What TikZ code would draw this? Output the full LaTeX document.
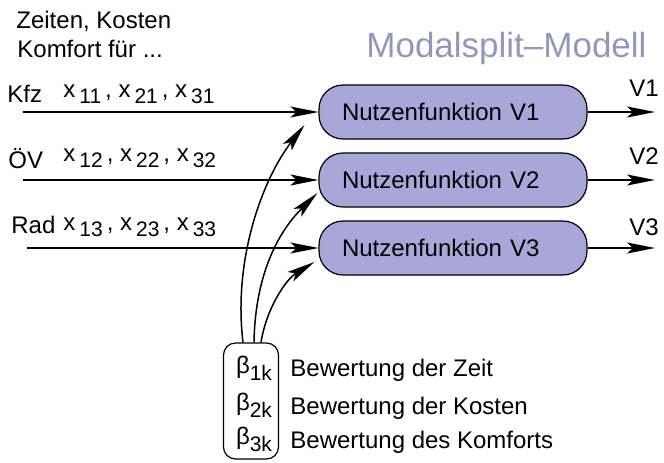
\documentclass[tikz,border=0pt]{standalone}
\usepackage{fontspec}
\setmainfont{Liberation Sans}
\definecolor{nutzColour}{RGB}{167, 167, 217}
\definecolor{titleColour}{RGB}{150, 150, 186}
\usetikzlibrary{
    arrows.meta,
    positioning
}
\newcommand{\tiefidx}[1]{\raisebox{-0.55ex}{\fontsize{10.5}{12}\selectfont #1}}
\begin{document}
\begin{tikzpicture}[x=0.5pt, y=-0.5pt,
        every node/.style={font=\fontsize{12}{14}\selectfont},
        nutzbox/.style={draw, fill=nutzColour, line width=0.6pt, rounded corners=12pt,
            text width=111pt, inner xsep=11.5pt, minimum height=27pt, align=left},
        betabox/.style={draw, line width=0.6pt, rounded corners=6pt, minimum width=27.5pt, minimum height=58pt},
        txtlabel/.style={inner sep=0pt, anchor=base west},
        pfeil/.style={-{Stealth[length=14pt, width=5.5pt, inset=3pt]}, line width=0.75pt},
    ]
    \useasboundingbox (0,0) rectangle (664,462);

    \node[txtlabel] (zeiten) at (16,28) {Zeiten, Kosten};
    \node[txtlabel] (komfort) at (17,57) {Komfort für ...};
    \node[txtlabel, font=\fontsize{17.5}{20}\selectfont, text=titleColour] (titel) at (366,57) {Modalsplit--Modell};

    \begin{scope}
        \node[nutzbox] (n1) at (453,112) {Nutzenfunktion V1};
        \node[nutzbox] (n2) at (453,180) {Nutzenfunktion V2};
        \node[nutzbox] (n3) at (453,248) {Nutzenfunktion V3};

        \node[betabox] (beta) at (251,401) {};
        \node (beta1) at (254,368) {β\tiefidx{1k}};
        \node (beta2) at (254,405) {β\tiefidx{2k}};
        \node (beta3) at (254,439) {β\tiefidx{3k}};
    \end{scope}

    % Eingaenge
    \coordinate (kfzIn) at (23,112);
    \coordinate (oevIn) at (23,180);
    \coordinate (radIn) at (27,248);
    \node[txtlabel] (kfz) at (7,102) {Kfz};
    \node[txtlabel] (oev) at (8,168) {ÖV};
    \node[txtlabel] (rad) at (11,233) {Rad};
    \node[txtlabel] (x1) at (63,97) {x\,\tiefidx{11}\,, x\,\tiefidx{21}\,, x\,\tiefidx{31}};
    \node[txtlabel] (x2) at (63,161) {x\,\tiefidx{12}\,, x\,\tiefidx{22}\,, x\,\tiefidx{32}};
    \node[txtlabel] (x3) at (63,230) {x\,\tiefidx{13}\,, x\,\tiefidx{23}\,, x\,\tiefidx{33}};

    \draw[pfeil] (kfzIn) -- (kfzIn -| n1.west);
    \draw[pfeil] (oevIn) -- (oevIn -| n2.west);
    \draw[pfeil] (radIn) -- (radIn -| n3.west);

    % Ausgaenge
    \coordinate (v1Out) at (655,112);
    \coordinate (v2Out) at (655,180);
    \coordinate (v3Out) at (655,248);
    \draw[pfeil] (n1.east) -- (v1Out);
    \draw[pfeil] (n2.east) -- (v2Out);
    \draw[pfeil] (n3.east) -- (v3Out);
    \node (lblV1) at (644,88) {V1};
    \node (lblV2) at (644,156) {V2};
    \node (lblV3) at (644,227) {V3};

    % Bewertungen
    \draw[pfeil] ([xshift=-4pt]beta.north) .. controls (233,260) and (262,180) .. ([xshift=-7pt, yshift=-6.5pt]n1.west);
    \draw[pfeil] ([xshift=1.5pt]beta.north) .. controls (255,280) and (275,235) .. ([xshift=-0.5pt, yshift=-6.5pt]n2.west);
    \draw[pfeil] ([xshift=5pt]beta.north) .. controls (266,310) and (285,280) .. ([xshift=-2pt, yshift=-7pt]n3.west);

    \node[txtlabel, anchor=west] (bzeit) at (290,370) {Bewertung der Zeit};
    \node[txtlabel, anchor=west] (bkosten) at (290,408) {Bewertung der Kosten};
    \node[txtlabel, anchor=west] (bkomfort) at (290,442) {Bewertung des Komforts};
\end{tikzpicture}
\end{document}
